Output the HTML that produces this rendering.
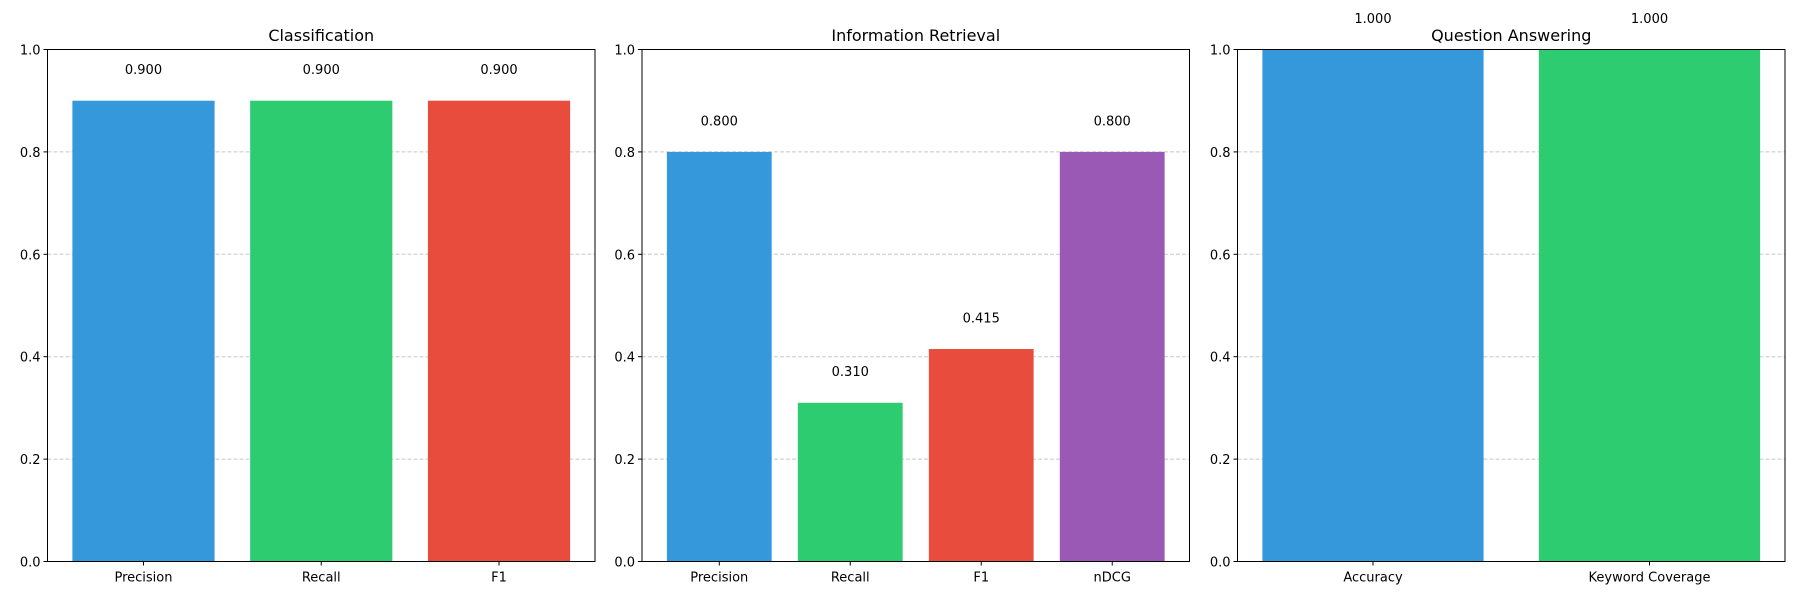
<!DOCTYPE html>
<html><head><meta charset="utf-8"><style>
body{margin:0;background:#fff;}
svg{display:block;font-family:"DejaVu Sans","Liberation Sans",sans-serif;}
</style></head><body>
<svg id="chart" width="1800" height="600" viewBox="0 0 1800 600"></svg>
<script>
const clsCategories = ["Precision","Recall","F1"];
const clsValues = [0.900,0.900,0.900];
const irCategories = ["Precision","Recall","F1","nDCG"];
const irValues = [0.800,0.310,0.415,0.800];
const qaCategories = ["Accuracy","Keyword Coverage"];
const qaValues = [1.000,1.000];
const yTicks = [0.0,0.2,0.4,0.6,0.8,1.0];
const colors = ["#3498db","#2ecc71","#e74c3c","#9b59b6"];

const NS="http://www.w3.org/2000/svg";
const svg=document.getElementById('chart');
function mk(tag,attrs,parent){const e=document.createElementNS(NS,tag);for(const k in attrs)e.setAttribute(k,attrs[k]);(parent||svg).appendChild(e);return e;}

const panels=[
 {title:"Classification",cats:clsCategories,vals:clsValues,x0:47.5,x1:595,name:"classification"},
 {title:"Information Retrieval",cats:irCategories,vals:irValues,x0:642,x1:1189.5,name:"information-retrieval"},
 {title:"Question Answering",cats:qaCategories,vals:qaValues,x0:1237.5,x1:1785,name:"question-answering"}
];
const yTop=49.5,yBot=561.5;
panels.forEach(p=>{
  const g=mk('g',{});
  
  
  const n=p.cats.length;
  const lo=-0.4,hi=n-1+0.4,pad=(hi-lo)*0.05;
  const xmin=lo-pad,xmax=hi+pad;
  const sx=v=>p.x0+(v-xmin)/(xmax-xmin)*(p.x1-p.x0);
  const sy=v=>yBot-v*(yBot-yTop);
  yTicks.forEach(t=>{
    if(t>0&&t<1){const l=mk('line',{x1:p.x0,x2:p.x1,y1:sy(t),y2:sy(t),stroke:'#b0b0b0','stroke-opacity':0.7,'stroke-dasharray':'4,2','stroke-width':1},g);
      }
    const tk=mk('line',{x1:p.x0-4,x2:p.x0,y1:sy(t),y2:sy(t),stroke:'#000'},g);
    
    const tl=mk('text',{x:p.x0-7,y:sy(t)+5,'text-anchor':'end','font-size':13},g);
    tl.textContent=t.toFixed(1);
    
  });
  p.vals.forEach((v,i)=>{
    const r=mk('rect',{x:sx(i-0.4),y:sy(v),width:sx(i+0.4)-sx(i-0.4),height:sy(0)-sy(v),fill:colors[i]},g);
    
    
    const vl=mk('text',{x:sx(i),y:sy(v+0.05)-1,'text-anchor':'middle','font-size':13},g);
    vl.textContent=v.toFixed(3);
    
    const tk=mk('line',{x1:sx(i),x2:sx(i),y1:yBot,y2:yBot+4,stroke:'#000'},g);
    
    const xl=mk('text',{x:sx(i),y:yBot+20,'text-anchor':'middle','font-size':13},g);
    xl.textContent=p.cats[i];
    
  });
  const fr=mk('rect',{x:p.x0,y:yTop,width:p.x1-p.x0,height:yBot-yTop,fill:'none',stroke:'#000','stroke-width':1},g);
  
  const ti=mk('text',{x:(p.x0+p.x1)/2,y:41,'text-anchor':'middle','font-size':16},g);
  ti.textContent=p.title;
  
});
</script>
</body></html>
